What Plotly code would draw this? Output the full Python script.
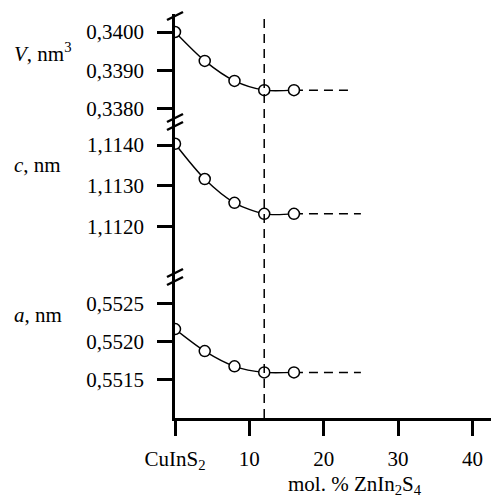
import plotly.graph_objects as go

# ---- data ----
x_mol = [0, 4, 8, 12, 16]
V_nm3 = [0.34000, 0.33925, 0.33873, 0.33849, 0.33849]
c_nm = [1.11403, 1.11317, 1.11259, 1.11232, 1.11232]
a_nm = [0.55217, 0.55188, 0.55168, 0.55160, 0.55160]
dash_end = {"V": 24, "c": 25, "a": 25}
x_vline = 12

x_ticks = [0, 10, 20, 30, 40]
x_ticktext = ["CuInS<sub>2</sub>", "10", "20", "30", "40"]
V_ticks = [0.3400, 0.3390, 0.3380]
V_ticktext = ["0,3400", "0,3390", "0,3380"]
c_ticks = [1.1140, 1.1130, 1.1120]
c_ticktext = ["1,1140", "1,1130", "1,1120"]
a_ticks = [0.5525, 0.5520, 0.5515]
a_ticktext = ["0,5525", "0,5520", "0,5515"]

FONT = "Liberation Serif"
FS = 21

# layout geometry (pixels)
W, H = 491, 498
L, R, T, B = 175, 0, 14, 80
PH = H - T - B
def py2paper(py):
    return (H - B - py) / PH

d_ca = py2paper(277)
d_Vc = py2paper(122)

fig = go.Figure()

series = [("V", V_nm3, "y3"), ("c", c_nm, "y2"), ("a", a_nm, "y")]
for name, vals, yax in series:
    fig.add_trace(go.Scatter(x=[x_mol[-1], dash_end[name]], y=[vals[-1], vals[-1]],
                             mode="lines", yaxis=yax,
                             line=dict(color="black", width=1.5, dash="9px,6px"),
                             showlegend=False, hoverinfo="skip"))
    fig.add_trace(go.Scatter(x=x_mol, y=vals, mode="lines+markers", yaxis=yax,
                             line=dict(color="black", width=1.4, shape="spline", smoothing=0.8),
                             marker=dict(symbol="circle", size=11, color="white",
                                         line=dict(color="black", width=1.5)),
                             showlegend=False))

axis_common = dict(showline=True, linecolor="black", linewidth=2.5, ticks="outside",
                   ticklen=15, tickwidth=2.5, tickcolor="black", showgrid=False,
                   zeroline=False, tickfont=dict(family=FONT, size=FS, color="black"))

fig.update_layout(
    width=W, height=H, margin=dict(l=L, r=R, t=T, b=B),
    paper_bgcolor="white", plot_bgcolor="white",
    font=dict(family=FONT, size=FS, color="black"),
    xaxis=dict(range=[0, 42.5], tickvals=x_ticks, ticktext=x_ticktext, anchor="y",
               ticklabelstandoff=5, **axis_common),
    yaxis=dict(domain=[0, d_ca], range=[0.5510, 0.552855], tickvals=a_ticks,
               ticktext=a_ticktext, anchor="x", ticklabelstandoff=9, **axis_common),
    yaxis2=dict(domain=[d_ca, d_Vc], range=[1.110780, 1.114561], tickvals=c_ticks,
                ticktext=c_ticktext, anchor="x", ticklabelstandoff=9, **axis_common),
    yaxis3=dict(domain=[d_Vc, 1], range=[0.337662, 0.340468], tickvals=V_ticks,
                ticktext=V_ticktext, anchor="x", ticklabelstandoff=9, **axis_common),
)

# vertical dashed line
fig.add_shape(type="line", xref="x", x0=x_vline, x1=x_vline, yref="paper", y0=0, y1=1,
              line=dict(color="black", width=1.5, dash="9px,6px"))

# axis break marks
def slash(yanchor, off):
    fig.add_shape(type="line", xref="paper", xsizemode="pixel", xanchor=0, x0=-8, x1=8,
                  yref="paper", ysizemode="pixel", yanchor=yanchor, y0=off - 4, y1=off + 4,
                  line=dict(color="black", width=2.5))

slash(1, -2)
for b in (d_Vc, d_ca):
    slash(b, 4)
    slash(b, -4)

# y labels
def lab(text, py):
    fig.add_annotation(text=text, xref="paper", x=(12 - L) / (W - L - R), xanchor="left",
                       yref="paper", y=py2paper(py), yanchor="middle", showarrow=False,
                       font=dict(family=FONT, size=FS, color="black"))

lab("<i>V</i>, nm<sup>3</sup>", 53)
lab("<i>c</i>, nm", 165)
lab("<i>a</i>, nm", 315)

fig.add_annotation(text="mol. % ZnIn<sub>2</sub>S<sub>4</sub>", xref="paper",
                   x=(355 - L) / (W - L - R), xanchor="center", yref="paper",
                   y=py2paper(485), yanchor="middle", showarrow=False,
                   font=dict(family=FONT, size=FS, color="black"))

fig.write_html("out.html", config={"displayModeBar": False},
               post_script="document.body.style.margin='0';document.body.style.overflow='hidden';")
